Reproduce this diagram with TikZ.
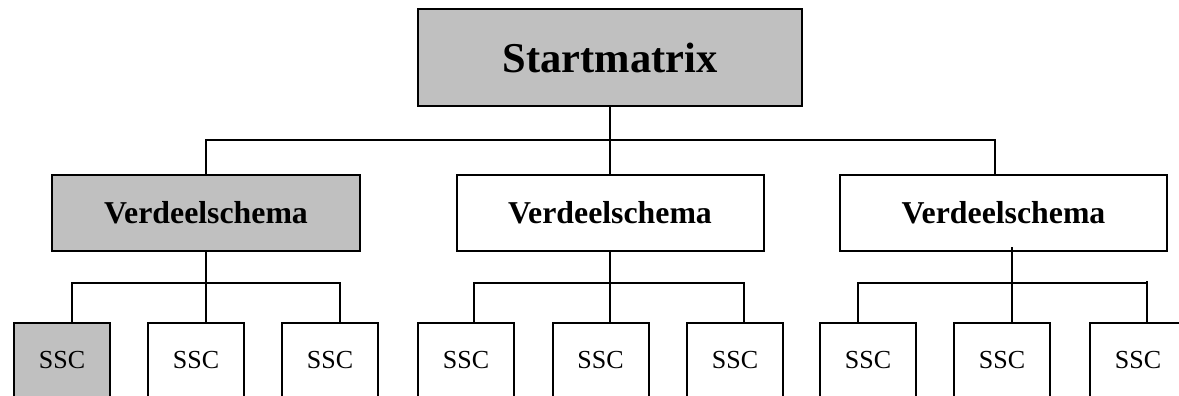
\documentclass[tikz,border=0pt]{standalone}
\usepackage{fontspec}
\setmainfont{Liberation Serif}
\definecolor{boxgray}{RGB}{192,192,192}
\begin{document}
\begin{tikzpicture}[x=1pt,y=-1pt,line width=2pt,
  box/.style={draw=black,rectangle,inner sep=0pt},
  grayfill/.style={fill=boxgray},
  topbox/.style={box,minimum width=384pt,minimum height=97pt,font=\fontsize{42.5}{50}\selectfont\bfseries},
  midbox/.style={box,minimum height=76pt,font=\fontsize{31.8}{38}\selectfont\bfseries},
  sscbox/.style={box,anchor=north,minimum width=96pt,text height=45pt,text depth=60pt,font=\fontsize{26}{31}\selectfont},
  link/.style={draw=black,line width=2pt}]
\useasboundingbox (0,0) rectangle (1179,396);
\clip (0,0) rectangle (1179,396);

\node[topbox,grayfill] (top) at (610,57.5) {Startmatrix};
\node[midbox,grayfill,minimum width=308pt] (v1) at (206,213) {Verdeelschema};
\node[midbox,minimum width=307pt] (v2) at (610,213) {Verdeelschema};
\node[midbox,minimum width=327pt] (v3) at (1003.5,213) {Verdeelschema};

\node[sscbox,grayfill] (s1) at (62,322) {SSC};
\node[sscbox] (s2) at (196,322) {SSC};
\node[sscbox] (s3) at (330,322) {SSC};
\node[sscbox] (s4) at (466,322) {SSC};
\node[sscbox] (s5) at (600.5,322) {SSC};
\node[sscbox] (s6) at (735,322) {SSC};
\node[sscbox] (s7) at (868,322) {SSC};
\node[sscbox] (s8) at (1002,322) {SSC};
\node[sscbox] (s9) at (1138,322) {SSC};

% top level connectors
\coordinate (h0) at (206,140);
\coordinate (h1) at (995,140);
\draw[link] (top.south) -- (v2.north);
\draw[link] (v1.north) -- (h0) -- (h1) -- (h1 |- v3.north);

% left group
\coordinate (a1) at (72,283);
\coordinate (a3) at (340,283);
\draw[link] (v1.south) -- (v1.south |- a1);
\draw[link] (a1 |- s1.north) -- (a1) -- (a3) -- (a3 |- s3.north);
\draw[link] (v1.south |- a1) -- (v1.south |- s2.north);

% middle group
\coordinate (b1) at (474,283);
\coordinate (b3) at (744,283);
\draw[link] (v2.south) -- (v2.south |- b1);
\draw[link] (b1 |- s4.north) -- (b1) -- (b3) -- (b3 |- s6.north);
\draw[link] (v2.south |- b1) -- (v2.south |- s5.north);

% right group
\coordinate (c1) at (858,283);
\coordinate (c3) at (1147,283);
\coordinate (cm) at (1012,247);
\coordinate (ce) at (1147,281);
\draw[link] (cm) -- (cm |- s8.north);
\draw[link] (c1 |- s7.north) -- (c1) -- (c3);
\draw[link] (ce) -- (ce |- s9.north);
\end{tikzpicture}
\end{document}
